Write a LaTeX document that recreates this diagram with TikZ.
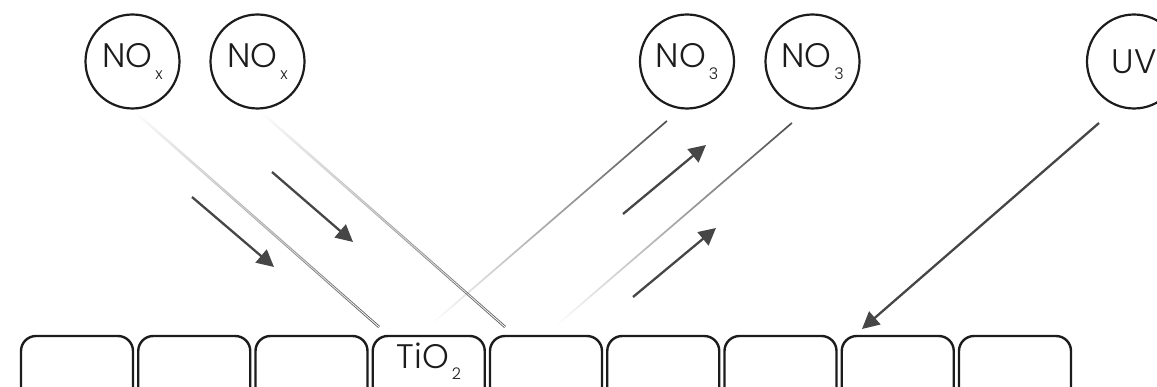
\documentclass[tikz,border=0pt]{standalone}
\usepackage{fontspec}
\IfFontExistsTF{Poppins Light}{\setmainfont{Poppins Light}}{\setmainfont{Poppins}}
\usetikzlibrary{arrows.meta,positioning,fadings}
\definecolor{arrowgray}{RGB}{70,70,70}
\definecolor{raygray}{RGB}{80,80,80}
\definecolor{ringblack}{RGB}{28,28,28}
\newcommand{\chemsub}[1]{\hspace{3pt}\raisebox{-12pt}{\fontsize{16}{16}\selectfont #1}}
\tikzfading[name=fadetop, top color=transparent!100, bottom color=transparent!0]
\tikzfading[name=fadebottom, top color=transparent!0, bottom color=transparent!100]

\begin{document}
\begin{tikzpicture}[x=1pt, y=-1pt, >=Stealth,
      font=\fontsize{34}{34}\selectfont,
      gas/.style={draw=ringblack, line width=2.2pt, circle, minimum size=94pt,
                  inner sep=0pt, text=ringblack},
      cell/.style={draw=ringblack, line width=2.4pt, rounded corners=15pt,
                   minimum width=112pt, minimum height=68pt, inner sep=0pt},
      arr/.style={-{Triangle[length=17pt, width=17pt]}, line width=2.3pt, draw=arrowgray},
      inray/.style={draw=raygray, line width=0.8pt, double=white,
                    double distance=0.9pt, path fading=fadetop},
      outray/.style={draw=raygray, line width=1.7pt, path fading=fadebottom}
    ]
    \clip (0,0) rectangle (1157,387);

    % gases and light
    \node[gas] (nox1) at (132.5,61.5) {NO\chemsub{x}};
    \node[gas] (nox2) at (257.5,61.5) {NO\chemsub{x}};
    \node[gas] (no3a) at (687,61.5) {NO\chemsub{3}};
    \node[gas] (no3b) at (812.5,61.5) {NO\chemsub{3}};
    \node[gas] (uv) at (1134,61.5) {UV};

    % TiO2 surface
    \foreach \i in {1,...,9}
      \node[cell] (cell\i) at ({77+117.25*(\i-1)},370) {};
    \node[anchor=base, text=ringblack] (tio2) at ([yshift=2pt]cell4.center)
          {TiO\chemsub{2}};

    % incoming NOx
    \coordinate (in1s) at (135,112);
    \coordinate (in1e) at (379,327);
    \coordinate (in2s) at (261,112);
    \coordinate (in2e) at (505,327);
    \draw[inray] (in1s) -- (in1e);
    \draw[inray] (in2s) -- (in2e);

    % outgoing NO3
    \coordinate (out1s) at (433,323);
    \coordinate (out1e) at (667,121);
    \coordinate (out2s) at (557,325);
    \coordinate (out2e) at (792,123);
    \draw[outray] (out1e) -- (out1s);
    \draw[outray] (out2e) -- (out2s);

    % direction arrows
    \coordinate (a1s) at (192,197);
    \coordinate (a1e) at (274,267);
    \coordinate (a2s) at (272,172);
    \coordinate (a2e) at (353,242);
    \coordinate (a3s) at (623,214);
    \coordinate (a3e) at (706,145);
    \coordinate (a4s) at (633,297);
    \coordinate (a4e) at (716,228);
    \draw[arr] (a1s) -- (a1e);
    \draw[arr] (a2s) -- (a2e);
    \draw[arr] (a3s) -- (a3e);
    \draw[arr] (a4s) -- (a4e);

    \coordinate (uvs) at (1099,123);
    \coordinate (uve) at (862,329);
    \draw[arr] (uvs) -- (uve);
  \end{tikzpicture}
\end{document}
